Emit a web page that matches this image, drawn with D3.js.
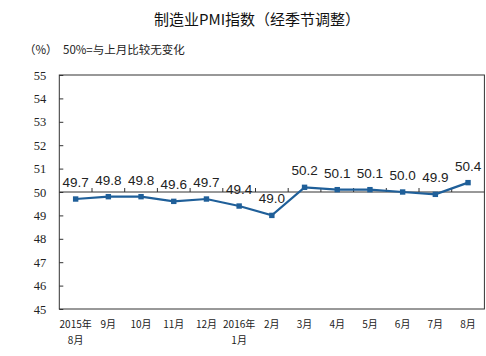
<!DOCTYPE html>
<html><head><meta charset="utf-8">
<script src="https://cdn.jsdelivr.net/npm/d3@7"></script>
<style>body{margin:0;background:#fff}svg{display:block}</style>
</head><body>
<script>
const categories = [["2015年","8月"],["9月"],["10月"],["11月"],["12月"],["2016年","1月"],["2月"],["3月"],["4月"],["5月"],["6月"],["7月"],["8月"]];
const pmiValues = [49.7, 49.8, 49.8, 49.6, 49.7, 49.4, 49.0, 50.2, 50.1, 50.1, 50.0, 49.9, 50.4];
const yTicks = [45,46,47,48,49,50,51,52,53,54,55];
const titleText = "制造业PMI指数（经季节调整）";
const unitText = "（%）";
const noteText = "50%=与上月比较无变化";

const W = 486, H = 356;
const m = {left: 59.3, right: 1.6, top: 75, bottom: 47};
const svg = d3.select("body").append("svg").attr("width", W).attr("height", H);

const x = d3.scaleBand().domain(d3.range(categories.length)).range([m.left, W - m.right]);
const y = d3.scaleLinear().domain([45, 55]).range([H - m.bottom, m.top]);

svg.append("text").attr("x", 257).attr("y", 25).attr("text-anchor", "middle")
  .attr("font-family", "'Noto Sans CJK SC'").attr("font-size", 15).attr("fill", "#111").text(titleText);
svg.append("text").attr("x", 24).attr("y", 54)
  .attr("font-family", "'Noto Sans CJK SC'").attr("font-size", 11.5).attr("fill", "#222").text(unitText);
svg.append("text").attr("x", 63).attr("y", 54)
  .attr("font-family", "'Noto Sans CJK SC'").attr("font-size", 11.5).attr("fill", "#222").text(noteText);

// plot border
svg.append("rect").attr("x", m.left).attr("y", m.top)
  .attr("width", W - m.right - m.left).attr("height", H - m.bottom - m.top)
  .attr("fill", "none").attr("stroke", "#333").attr("stroke-width", 1);

// y axis
const yAxis = d3.axisLeft(y).tickValues(yTicks).tickSize(-4).tickPadding(13).tickFormat(d3.format("d"));
const gy = svg.append("g").attr("transform", `translate(${m.left},0)`).call(yAxis);
gy.select(".domain").remove();
gy.selectAll("line").attr("stroke", "#333");
gy.selectAll("text").attr("font-family", "'Liberation Serif'").attr("font-size", 12.5).attr("fill", "#222");

// x axis at 50 with ticks between categories
const xAxis = d3.axisTop(x).tickSize(0).tickFormat("");
const gx = svg.append("g").attr("transform", `translate(0,${y(50)})`).call(xAxis);
gx.select(".domain").attr("stroke", "#333").attr("d", `M${m.left},0H${W - m.right}`);
gx.selectAll(".tick").remove();
d3.range(1, categories.length).forEach(i => {
  const bx = x(i);
  gx.append("line").attr("x1", bx).attr("x2", bx).attr("y1", 0).attr("y2", -4).attr("stroke", "#333");
});

// category labels
const cl = svg.append("g");
categories.forEach((c, i) => {
  const t = cl.append("text").attr("text-anchor", "middle")
    .attr("font-family", "'Noto Sans CJK SC'").attr("font-size", 10).attr("fill", "#222");
  c.forEach((line, j) => {
    t.append("tspan").attr("x", x(i) + x.bandwidth() / 2).attr("y", 328 + j * 16).text(line);
  });
});

// line
const cx = i => x(i) + x.bandwidth() / 2;
const lineGen = d3.line().x((d, i) => cx(i)).y(d => y(d));
svg.append("path").datum(pmiValues).attr("d", lineGen)
  .attr("fill", "none").attr("stroke", "#1f5f99").attr("stroke-width", 2.2);
svg.selectAll("rect.mk").data(pmiValues).enter().append("rect").attr("class", "mk")
  .attr("x", (d, i) => cx(i) - 2.7).attr("y", d => y(d) - 2.7)
  .attr("width", 5.4).attr("height", 5.4).attr("fill", "#1f5f99");

// value labels
svg.selectAll("text.lbl").data(pmiValues).enter().append("text").attr("class", "lbl")
  .attr("x", (d, i) => cx(i)).attr("y", d => y(d) - 12)
  .attr("text-anchor", "middle").attr("font-family", "'Liberation Sans'").attr("font-size", 13.5)
  .attr("fill", "#222").text(d => d.toFixed(1));
</script>
</body></html>
